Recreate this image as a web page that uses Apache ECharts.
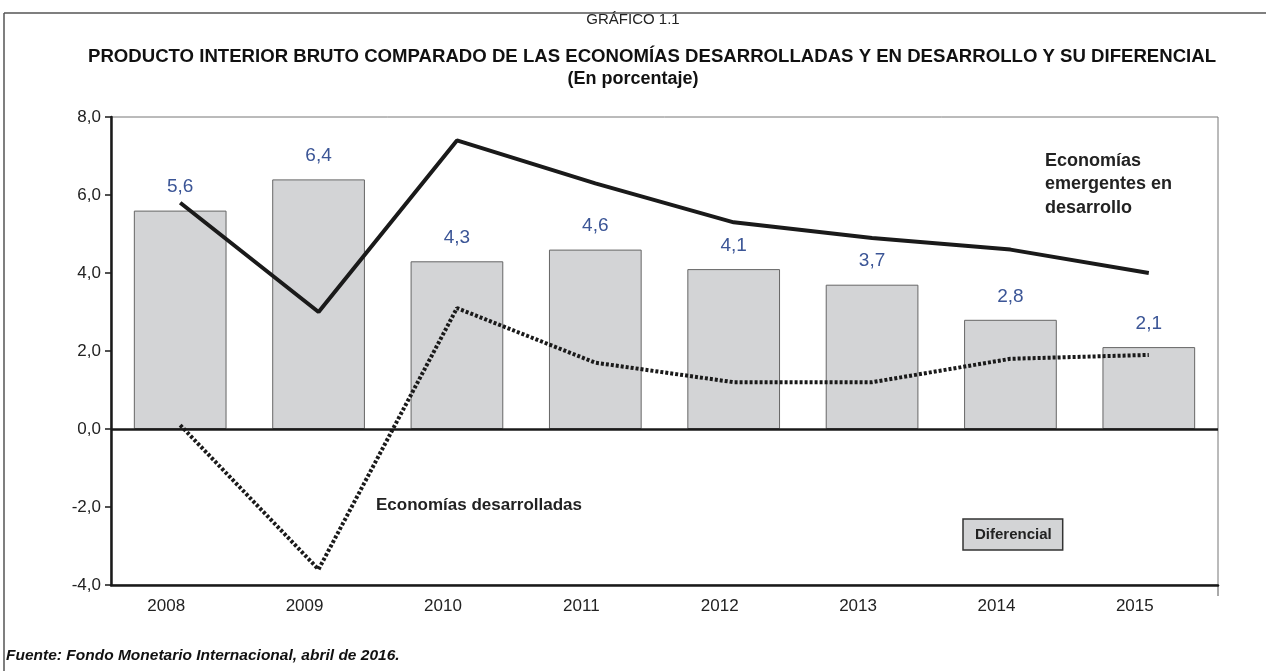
<!DOCTYPE html>
<html>
<head>
<meta charset="utf-8">
<script src="https://cdn.jsdelivr.net/npm/echarts@6/dist/echarts.min.js"></script>
<style>
	html, body { margin: 0; padding: 0; background: #fff; }
	#chart { width: 1266px; height: 671px; }
</style>
</head>
<body>
<div id="chart"></div>
<script>
	// datos
	const years = ['2008', '2009', '2010', '2011', '2012', '2013', '2014', '2015'];
	const diferencial = [5.6, 6.4, 4.3, 4.6, 4.1, 3.7, 2.8, 2.1];
	const emergentes = [5.8, 3.0, 7.4, 6.3, 5.3, 4.9, 4.6, 4.0];
	const desarrolladas = [0.1, -3.6, 3.1, 1.7, 1.2, 1.2, 1.8, 1.9];

	const fmt = v => v.toFixed(1).replace('.', ',');
	const font = 'Liberation Sans, Arial, sans-serif';

	let chart = echarts.init(document.getElementById('chart'));
	const option = {
		animation: false,
		textStyle: { fontFamily: font },
		grid: {
			left: 111,
			right: 48,
			top: 117,
			bottom: 86,
			show: true,
			borderColor: '#777',
			borderWidth: 1
		},
		legend: {
			data: ['Diferencial'],
			left: 963,
			top: 519,
			backgroundColor: '#d3d4d6',
			borderColor: '#333',
			borderWidth: 1.5,
			borderRadius: 0,
			padding: [8, 11, 8, 6],
			itemWidth: 0,
			itemHeight: 0,
			itemGap: 0,
			selectedMode: false,
			textStyle: { fontWeight: 'bold', fontSize: 15, color: '#222' }
		},
		xAxis: {
			type: 'category',
			data: years,
			axisLine: { onZero: false, lineStyle: { color: '#1a1a1a', width: 2.5 } },
			axisTick: { length: 7, lineStyle: { color: '#1a1a1a', width: 1.5 } },
			axisLabel: { fontSize: 17, color: '#222', margin: 13, padding: [0, 28, 0, 0] }
		},
		yAxis: {
			type: 'value',
			min: -4,
			max: 8,
			interval: 2,
			splitLine: { show: false },
			axisLine: { show: true, lineStyle: { color: '#1a1a1a', width: 2.5 } },
			axisTick: { show: true, length: 6, lineStyle: { color: '#1a1a1a', width: 1.5 } },
			axisLabel: { fontSize: 17, color: '#222', margin: 10, formatter: v => fmt(v) }
		},
		series: [
			{
				name: 'Diferencial',
				type: 'bar',
				data: diferencial,
				barCategoryGap: '33%',
				itemStyle: { color: '#d3d4d6', borderColor: '#666', borderWidth: 1 },
				label: {
					show: true,
					position: 'top',
					distance: 14,
					fontSize: 19,
					color: '#3b5596',
					formatter: p => fmt(p.value)
				},
				markLine: {
					silent: true,
					symbol: 'none',
					label: { show: false },
					lineStyle: { color: '#1a1a1a', width: 2.5, type: 'solid' },
					data: [{ yAxis: 0 }]
				}
			},
			{
				name: 'Economías emergentes en desarrollo',
				type: 'line',
				data: emergentes,
				symbol: 'none',
				lineStyle: { color: '#1a1a1a', width: 4 }
			},
			{
				name: 'Economías desarrolladas',
				type: 'line',
				data: desarrolladas,
				symbol: 'none',
				lineStyle: { color: '#1a1a1a', width: 4, type: [3, 2] }
			}
		],
		graphic: [
			{ type: 'line', shape: { x1: 4, y1: 13, x2: 1266, y2: 13 }, style: { stroke: '#555', lineWidth: 1.5 } },
			{ type: 'line', shape: { x1: 4, y1: 13, x2: 4, y2: 671 }, style: { stroke: '#555', lineWidth: 1.5 } },
			{ type: 'line', shape: { x1: 1218, y1: 585, x2: 1218, y2: 596 }, style: { stroke: '#555', lineWidth: 1 } },
			{
				type: 'text', left: 'center', top: 12,
				style: { text: 'GRÁFICO 1.1', fontSize: 15, fill: '#222', fontFamily: font }
			},
			{
				type: 'text', left: 88, top: 47,
				style: {
					text: 'PRODUCTO INTERIOR BRUTO COMPARADO DE LAS ECONOMÍAS DESARROLLADAS Y EN DESARROLLO Y SU DIFERENCIAL',
					fontSize: 18.6, fontWeight: 'bold', fill: '#111', fontFamily: font
				}
			},
			{
				type: 'text', left: 'center', top: 70,
				style: { text: '(En porcentaje)', fontSize: 18, fontWeight: 'bold', fill: '#111', fontFamily: font }
			},
			{
				type: 'text', left: 1045, top: 149,
				style: {
					text: 'Economías\nemergentes en\ndesarrollo',
					fontSize: 18, fontWeight: 'bold', fill: '#222', lineHeight: 23.5,
					fontFamily: font
				}
			},
			{
				type: 'text', left: 376, top: 497,
				style: { text: 'Economías desarrolladas', fontSize: 17, fontWeight: 'bold', fill: '#222', fontFamily: font }
			},
			{
				type: 'text', left: 6, top: 648,
				style: {
					text: 'Fuente: Fondo Monetario Internacional, abril de 2016.',
					fontSize: 15.5, fontWeight: 'bold', fontStyle: 'italic', fill: '#111',
					fontFamily: font
				}
			}
		]
	};
	chart.setOption(option);
	window.addEventListener('resize', () => {
		chart.resize();
	});
</script>
</body>
</html>
